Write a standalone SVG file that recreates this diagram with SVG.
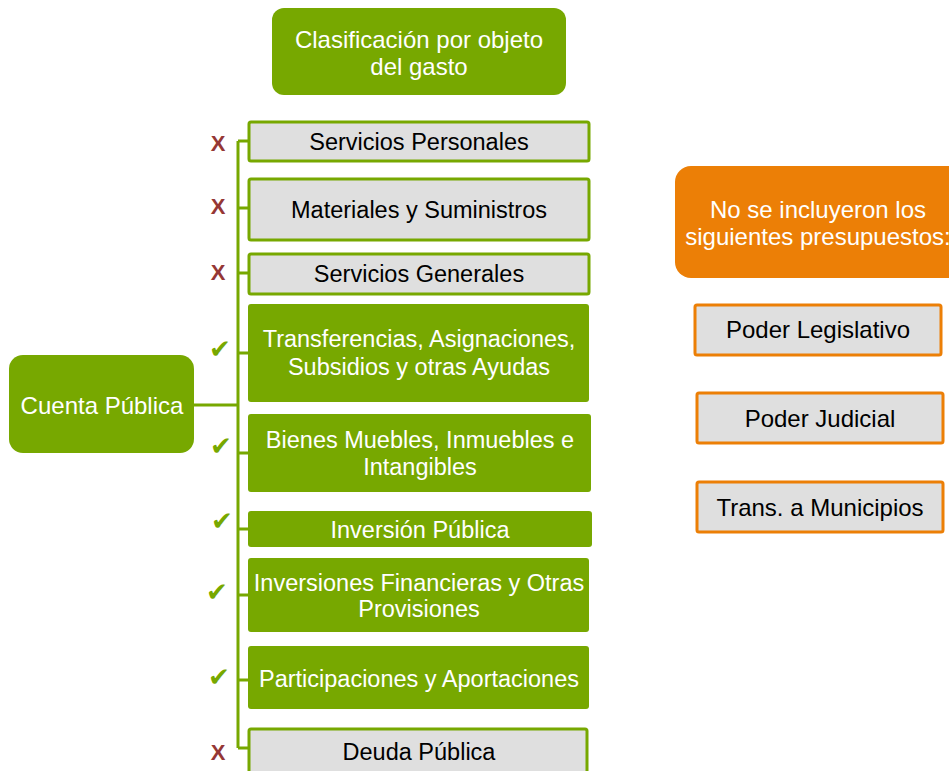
<svg xmlns="http://www.w3.org/2000/svg" width="949" height="771" viewBox="0 0 949 771">
<style>
text{font-family:"Liberation Sans",Arial,sans-serif;text-anchor:middle}
.g{fill:#77A800}
.gb{fill:#DFDFDF;stroke:#77A800;stroke-width:3}
.ob{fill:#DFDFDF;stroke:#EC7F06;stroke-width:3}
.w{fill:#fff;font-size:23.5px}
.k{fill:#000;font-size:23.5px}
.x{fill:#953735;font-size:22px;font-weight:bold}
.c{fill:#77A800;font-size:26px;font-family:"DejaVu Sans",sans-serif}
.ln{stroke:#77A800;stroke-width:3;fill:none}
</style>
<rect width="949" height="771" fill="#fff"/>
<g id="connectors">
<path class="ln" d="M238 141V748M238 141H249M238 208H249M238 273H249M238 353H249M238 453H249M238 529H249M238 595H249M238 680H249M238 748H249M194 405H238"/>
</g>
<g id="title"><rect class="g" x="272" y="8" width="294" height="87" rx="12"/><text class="w" x="419" y="48" style="font-size:24px">Clasificación por objeto</text><text class="w" x="419" y="75" style="font-size:24px">del gasto</text></g>
<g id="cuenta"><rect class="g" x="9" y="355" width="185" height="98" rx="14"/><text class="w" x="102" y="414" style="font-size:24px">Cuenta Pública</text></g>
<g id="n1"><rect class="gb" x="249" y="122" width="340" height="39" rx="2"/><text class="k" x="419" y="150">Servicios Personales</text></g>
<g id="n2"><rect class="gb" x="249" y="179" width="340" height="61" rx="2"/><text class="k" x="419" y="218">Materiales y Suministros</text></g>
<g id="n3"><rect class="gb" x="249" y="254" width="340" height="40" rx="2"/><text class="k" x="419" y="282">Servicios Generales</text></g>
<g id="n4"><rect class="g" x="248" y="304" width="341" height="98" rx="3"/><text class="w" x="419" y="347">Transferencias, Asignaciones,</text><text class="w" x="419" y="375">Subsidios y otras Ayudas</text></g>
<g id="n5"><rect class="g" x="248" y="414" width="343" height="78" rx="3"/><text class="w" x="420" y="448">Bienes Muebles, Inmuebles e</text><text class="w" x="420" y="475">Intangibles</text></g>
<g id="n6"><rect class="g" x="248" y="511" width="344" height="36" rx="3"/><text class="w" x="420" y="538">Inversión Pública</text></g>
<g id="n7"><rect class="g" x="248" y="558" width="341" height="74" rx="3"/><text class="w" x="419" y="591">Inversiones Financieras y Otras</text><text class="w" x="419" y="617">Provisiones</text></g>
<g id="n8"><rect class="g" x="248" y="646" width="341" height="63" rx="3"/><text class="w" x="419" y="687">Participaciones y Aportaciones</text></g>
<g id="n9"><rect class="gb" x="249" y="729" width="338" height="50" rx="2"/><text class="k" x="419" y="760">Deuda Pública</text></g>
<g id="marks">
<text class="x" x="218" y="151">X</text>
<text class="x" x="218" y="214">X</text>
<text class="x" x="218" y="280">X</text>
<text class="x" x="218" y="760">X</text>
<text class="c" x="220" y="358">✔</text>
<text class="c" x="221" y="455">✔</text>
<text class="c" x="222" y="530">✔</text>
<text class="c" x="217" y="601">✔</text>
<text class="c" x="219" y="686">✔</text>
</g>
<g id="orange"><rect x="675" y="166" width="300" height="112" rx="16" fill="#EC7F06"/><text class="w" x="818" y="218" style="font-size:24px">No se incluyeron los</text><text class="w" x="818" y="245" style="font-size:24px">siguientes presupuestos:</text></g>
<g id="r1"><rect class="ob" x="695" y="305" width="246" height="50" rx="2"/><text class="k" x="818" y="338" style="font-size:24px">Poder Legislativo</text></g>
<g id="r2"><rect class="ob" x="697" y="393" width="246" height="50" rx="2"/><text class="k" x="820" y="427" style="font-size:24px">Poder Judicial</text></g>
<g id="r3"><rect class="ob" x="697" y="482" width="246" height="50" rx="2"/><text class="k" x="820" y="516" style="font-size:24px">Trans. a Municipios</text></g>
</svg>
